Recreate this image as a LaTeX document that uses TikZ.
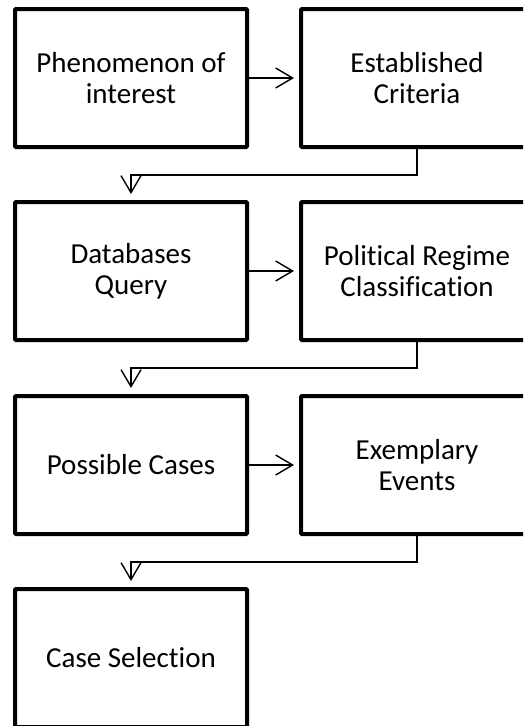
\documentclass[tikz,border=0pt]{standalone}
\usepackage{fontspec}
\setmainfont{Carlito}[Ligatures={NoCommon}]
\usetikzlibrary{arrows.meta}
\begin{document}
\begin{tikzpicture}[x=1pt,y=1pt,
  box/.style={draw=black,line width=4pt,rounded corners=1pt,minimum width=232pt,minimum height=138pt,
    align=center,font=\fontsize{29}{31}\selectfont,inner sep=0pt,fill=white},
  conn/.style={draw=black,line width=1.4pt,-{Straight Barb[length=17pt,width=20pt,line width=1.4pt]}}]
\useasboundingbox (0,0) rectangle (523,-726);
\clip (0,0) rectangle (523,-726);
\node[box] (a) at (131,-78) {Phenomenon of\\interest};
\node[box] (b) at (417,-78) {Established\\Criteria};
\node[box] (c) at (131,-271) {Databases\\Query};
\node[box] (d) at (417,-271) {Political Regime\\Classification};
\node[box] (e) at (131,-465) {Possible Cases};
\node[box] (f) at (417,-465) {Exemplary\\Events};
\node[box] (g) at (131,-658) {Case Selection};
\draw[conn,shorten >=5pt] (a.east) -- (b.west);
\draw[conn,shorten >=5pt] (c.east) -- (d.west);
\draw[conn,shorten >=5pt] (e.east) -- (f.west);
\draw[conn,shorten >=6pt] (b.south) -- ++(0,-26) -| (c.north);
\draw[conn,shorten >=6pt] (d.south) -- ++(0,-26) -| (e.north);
\draw[conn,shorten >=6pt] (f.south) -- ++(0,-26) -| (g.north);
\end{tikzpicture}
\end{document}
